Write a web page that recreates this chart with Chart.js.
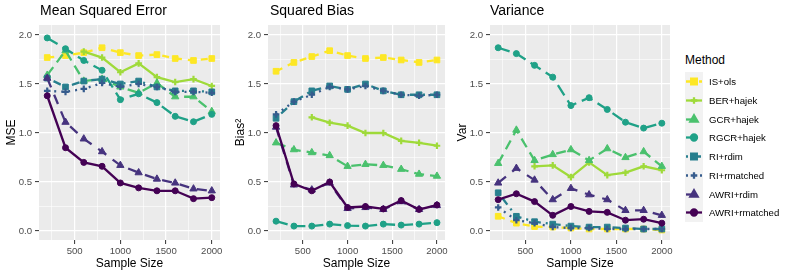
<!DOCTYPE html>
<html>
<head>
<meta charset="utf-8">
<script src="https://cdn.jsdelivr.net/npm/chart.js@4.4.0/dist/chart.umd.min.js"></script>
<style>
  body { margin: 0; background: #fff; font-family: "Liberation Sans", Arial, sans-serif; }
  #lienzo { position: relative; width: 789px; height: 276px; overflow: hidden; }
  #lienzo canvas.panel { position: absolute; top: 0; }
  .titulo { position: absolute; top: 3px; font-size: 14px; line-height: 14px; color: #000; white-space: nowrap; }
  #leyenda { position: absolute; left: 685px; top: 0; }
  #leyenda .cabecera { position: absolute; left: 0; top: 53px; font-size: 12px; line-height: 14px; white-space: nowrap; }
  #leyenda .fila { position: absolute; left: 0; height: 19px; }
  #leyenda .fila canvas { position: absolute; left: 0; top: 0; }
  #leyenda .fila span { position: absolute; left: 24px; top: 0; font-size: 9.6px; line-height: 19px; white-space: nowrap; color: #000; }
</style>
</head>
<body>
<div id="lienzo">
  <canvas id="graficoMSE" class="panel" width="230" height="276" style="left:0px"></canvas>
  <canvas id="graficoSesgo" class="panel" width="226" height="276" style="left:229px"></canvas>
  <canvas id="graficoVarianza" class="panel" width="229" height="276" style="left:451px"></canvas>
  <div class="titulo" style="left:40px">Mean Squared Error</div>
  <div class="titulo" style="left:270px">Squared Bias</div>
  <div class="titulo" style="left:490px">Variance</div>
  <div id="leyenda"><div class="cabecera">Method</div></div>
</div>
<script>
// Datos
const tamanos = [200, 400, 600, 800, 1000, 1200, 1400, 1600, 1800, 2000];
const metodos = ["IS+ols", "BER+hajek", "GCR+hajek", "RGCR+hajek", "RI+rdim", "RI+rmatched", "AWRI+rdim", "AWRI+rmatched"];

// Marcas de los ejes (las mayores llevan etiqueta)
const marcasX = [250, 500, 750, 1000, 1250, 1500, 1750, 2000];
const marcasY = [0, 0.25, 0.5, 0.75, 1, 1.25, 1.5, 1.75, 2];

// Una fila por método, en el mismo orden que "metodos"
const valoresMSE = [
    [1.77, 1.79, 1.82, 1.87, 1.82, 1.79, 1.80, 1.76, 1.74, 1.76],
    [null, null, 1.83, 1.77, 1.62, 1.71, 1.57, 1.52, 1.55, 1.48],
    [1.59, 1.84, 1.53, 1.55, 1.47, 1.41, 1.51, 1.37, 1.37, 1.22],
    [1.97, 1.86, 1.74, 1.64, 1.34, 1.40, 1.31, 1.17, 1.115, 1.19],
    [1.56, 1.47, 1.53, 1.55, 1.50, 1.53, 1.47, 1.43, 1.43, 1.42],
    [1.43, 1.42, 1.45, 1.51, 1.47, 1.50, 1.47, 1.42, 1.42, 1.41],
    [1.56, 1.11, 0.94, 0.81, 0.67, 0.595, 0.53, 0.49, 0.43, 0.41],
    [1.38, 0.85, 0.70, 0.66, 0.49, 0.44, 0.41, 0.41, 0.33, 0.34]
];
const valoresSesgo = [
    [1.63, 1.72, 1.78, 1.84, 1.79, 1.76, 1.77, 1.745, 1.72, 1.745],
    [null, null, 1.16, 1.105, 1.075, 1.00, 1.00, 0.92, 0.90, 0.87],
    [0.90, 0.83, 0.80, 0.77, 0.66, 0.68, 0.67, 0.63, 0.58, 0.56],
    [0.10, 0.05, 0.05, 0.07, 0.055, 0.05, 0.07, 0.06, 0.07, 0.085],
    [1.15, 1.32, 1.43, 1.48, 1.445, 1.50, 1.43, 1.39, 1.39, 1.39],
    [1.19, 1.32, 1.39, 1.47, 1.445, 1.48, 1.43, 1.39, 1.38, 1.39],
    [1.06, 0.47, 0.42, 0.49, 0.23, 0.24, 0.22, 0.30, 0.22, 0.26],
    [1.075, 0.48, 0.41, 0.50, 0.24, 0.25, 0.225, 0.31, 0.22, 0.265]
];
const valoresVarianza = [
    [0.15, 0.08, 0.045, 0.04, 0.03, 0.02, 0.02, 0.02, 0.02, 0.01],
    [null, null, 0.66, 0.67, 0.55, 0.70, 0.57, 0.595, 0.66, 0.62],
    [0.69, 1.03, 0.72, 0.78, 0.83, 0.72, 0.84, 0.75, 0.81, 0.66],
    [1.87, 1.81, 1.69, 1.57, 1.28, 1.36, 1.24, 1.11, 1.05, 1.10],
    [0.39, 0.15, 0.095, 0.07, 0.05, 0.04, 0.04, 0.03, 0.02, 0.02],
    [0.24, 0.11, 0.08, 0.04, 0.03, 0.03, 0.02, 0.02, 0.02, 0.02],
    [0.49, 0.64, 0.52, 0.32, 0.435, 0.37, 0.32, 0.21, 0.21, 0.16],
    [0.32, 0.38, 0.30, 0.16, 0.25, 0.20, 0.19, 0.11, 0.12, 0.08]
];

// Estilos (paleta viridis)
const colores = ["#FDE725", "#9FDA3A", "#4AC16D", "#1FA187", "#277F8E", "#365C8D", "#46337E", "#440154"];
const formas = ["rect", "cross", "triangle", "circle", "rect", "cross", "triangle", "circle"];
const radios = [4, 3.3, 4.2, 3, 4, 3.3, 4.2, 3];
const trazos = [[7, 6], [], [10, 6], [12, 6], [2, 5, 8, 5], [2, 5], [10, 8], []];
const grosorLinea = 2.3;

Chart.defaults.font.family = '"Liberation Sans", Arial, sans-serif';

// Fondo gris del panel
const fondoPanel = {
    id: "fondoPanel",
    beforeDraw(chart) {
        const a = chart.chartArea;
        const ctx = chart.ctx;
        ctx.save();
        ctx.fillStyle = "#EBEBEB";
        ctx.fillRect(a.left, a.top, a.right - a.left, a.bottom - a.top);
        ctx.restore();
    }
};

function esMayorX(v) { return v % 500 === 0; }
function esMayorY(v) { return Math.abs(v * 2 - Math.round(v * 2)) < 1e-9; }

function generarGrafico(id, tituloY, valores) {
    const datasets = metodos.map((m, i) => ({
        label: m,
        data: tamanos.map((t, j) => ({ x: t, y: valores[i][j] })),
        borderColor: colores[i],
        backgroundColor: colores[i],
        borderWidth: grosorLinea,
        borderDash: trazos[i],
        pointStyle: formas[i],
        pointRadius: radios[i],
        pointBorderWidth: formas[i] === "cross" ? 2.2 : 1,
        pointBorderColor: colores[i],
        pointBackgroundColor: colores[i],
        tension: 0,
        order: metodos.length - 1 - i
    }));

    new Chart(document.getElementById(id), {
        type: "line",
        data: { datasets: datasets },
        plugins: [fondoPanel],
        options: {
            responsive: false,
            animation: false,
            devicePixelRatio: 1,
            layout: { padding: { top: 25, right: 10, bottom: 0, left: 0 } },
            plugins: { legend: { display: false }, tooltip: { enabled: false } },
            scales: {
                x: {
                    type: "linear",
                    min: 110,
                    max: 2090,
                    afterBuildTicks: (s) => { s.ticks = marcasX.map((v) => ({ value: v })); },
                    afterFit: (s) => { s.height = 36; },
                    border: { display: false },
                    grid: {
                        color: "#FFFFFF",
                        lineWidth: (c) => esMayorX(c.tick.value) ? 1.2 : 0.6,
                        tickLength: 4,
                        tickWidth: 1,
                        tickColor: (c) => esMayorX(c.tick.value) ? "#333333" : "rgba(0,0,0,0)"
                    },
                    ticks: {
                        autoSkip: false,
                        maxRotation: 0,
                        color: "#4D4D4D",
                        font: { size: 9.6 },
                        padding: 2,
                        callback: (v) => esMayorX(v) ? String(v) : ""
                    },
                    title: { display: true, text: "Sample Size", color: "#000", font: { size: 12 }, padding: { top: 0, bottom: 5 } }
                },
                y: {
                    min: -0.092,
                    max: 2.102,
                    afterBuildTicks: (s) => { s.ticks = marcasY.map((v) => ({ value: v })); },
                    afterFit: (s) => { s.width = 39; },
                    border: { display: false },
                    grid: {
                        color: "#FFFFFF",
                        lineWidth: (c) => esMayorY(c.tick.value) ? 1.2 : 0.6,
                        tickLength: 4,
                        tickWidth: 1,
                        tickColor: (c) => esMayorY(c.tick.value) ? "#333333" : "rgba(0,0,0,0)"
                    },
                    ticks: {
                        autoSkip: false,
                        color: "#4D4D4D",
                        font: { size: 9.6 },
                        padding: 3,
                        callback: (v) => esMayorY(v) ? v.toFixed(1) : ""
                    },
                    title: { display: true, text: tituloY, color: "#000", font: { size: 12 }, padding: { top: 4, bottom: 0 } }
                }
            }
        }
    });
}

generarGrafico("graficoMSE", "MSE", valoresMSE);
generarGrafico("graficoSesgo", "Bias²", valoresSesgo);
generarGrafico("graficoVarianza", "Var", valoresVarianza);

// Leyenda
const leyenda = document.getElementById("leyenda");
metodos.forEach((m, i) => {
    const fila = document.createElement("div");
    fila.className = "fila";
    fila.style.top = (72.3 + i * 18.7) + "px";
    const c = document.createElement("canvas");
    c.width = 18;
    c.height = 19;
    const ctx = c.getContext("2d");
    ctx.fillStyle = "#F2F2F2";
    ctx.fillRect(0, 0, 18, 19);
    ctx.strokeStyle = colores[i];
    ctx.lineWidth = grosorLinea;
    ctx.setLineDash(trazos[i]);
    ctx.beginPath();
    ctx.moveTo(1, 9.5);
    ctx.lineTo(17, 9.5);
    ctx.stroke();
    ctx.setLineDash([]);
    ctx.fillStyle = colores[i];
    Chart.helpers.drawPoint(ctx, {
        pointStyle: formas[i],
        radius: radios[i],
        rotation: 0,
        borderWidth: formas[i] === "cross" ? 2.2 : 1
    }, 9, 9.5);
    const texto = document.createElement("span");
    texto.textContent = m;
    fila.appendChild(c);
    fila.appendChild(texto);
    leyenda.appendChild(fila);
});
</script>
</body>
</html>
